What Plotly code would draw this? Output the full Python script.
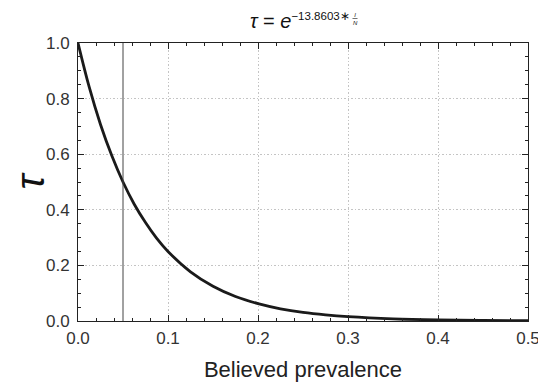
import plotly.graph_objects as go

# Data
prevalence = [0.0, 0.0125, 0.025, 0.0375, 0.05, 0.0625, 0.075, 0.0875, 0.1, 0.125, 0.15, 0.175,
              0.2, 0.225, 0.25, 0.275, 0.3, 0.35, 0.4, 0.45, 0.5]
tau = [1.0, 0.841, 0.707, 0.595, 0.50, 0.420, 0.354, 0.297, 0.25, 0.177, 0.125, 0.088,
       0.0625, 0.044, 0.031, 0.022, 0.0156, 0.0078, 0.0039, 0.0020, 0.0010]
threshold = 0.05

FONT = "Liberation Sans, Arial, sans-serif"

fig = go.Figure()
fig.add_trace(go.Scatter(x=prevalence, y=tau, mode="lines",
                         line=dict(color="#1a1a1a", width=2.8, shape="spline"),
                         showlegend=False, hoverinfo="skip"))
fig.add_vline(x=threshold, line=dict(color="#444444", width=1))

axis_common = dict(
    showline=True, linecolor="#222222", linewidth=1, mirror="ticks",
    ticks="inside", ticklen=6, tickcolor="#222222", tickmode="linear",
    showgrid=True, gridcolor="#c4c4c4", griddash="1.5px,2px", gridwidth=1,
    zeroline=False, tickfont=dict(family=FONT, size=17, color="#333333"),
    automargin=False,
)

fig.update_xaxes(range=[0, 0.5], tick0=0, dtick=0.1, tickformat=".1f", ticklabelstandoff=2,
                 minor=dict(ticks="inside", dtick=0.02, ticklen=3, tickcolor="#222222", showgrid=False),
                 title=dict(text="Believed prevalence", font=dict(family=FONT, size=22, color="#222222"),
                            standoff=14),
                 **axis_common)
fig.update_yaxes(range=[0, 1.0], tick0=0, dtick=0.2, tickformat=".1f", ticklabelstandoff=4,
                 minor=dict(ticks="inside", dtick=0.05, ticklen=3, tickcolor="#222222", showgrid=False),
                 title=dict(text="<i>τ</i>", font=dict(family=FONT, size=40, color="#111111"),
                            standoff=22),
                 **axis_common)

# Title:  τ = e^(−13.8603∗ I/N)
fig.add_annotation(
    text="<i>τ</i> = <i>e</i><sup><span style='font-size:11.5px'>−13.8603∗</span></sup>",
    xref="paper", yref="paper", x=(248 - 78) / 450, y=(321 - 21) / 278,
    xanchor="left", yanchor="middle", showarrow=False,
    font=dict(family=FONT, size=20, color="#111111"))
fig.add_annotation(
    text="<i>I</i><br><i>N</i>",
    xref="paper", yref="paper", x=(355 - 78) / 450, y=(321 - 18.5) / 278,
    xanchor="center", yanchor="middle", showarrow=False,
    font=dict(family=FONT, size=6, color="#111111"))
fig.add_shape(type="line", xref="paper", yref="paper",
              x0=(352.5 - 78) / 450, x1=(357.5 - 78) / 450,
              y0=(321 - 18.5) / 278, y1=(321 - 18.5) / 278,
              line=dict(color="#111111", width=0.6))

# The page body has an 8px margin, so the figure is shrunk by that offset.
fig.update_layout(
    width=538, height=376,
    margin=dict(l=70, r=18, t=35, b=63),
    paper_bgcolor="white", plot_bgcolor="white",
)
fig.write_html("out.html")
